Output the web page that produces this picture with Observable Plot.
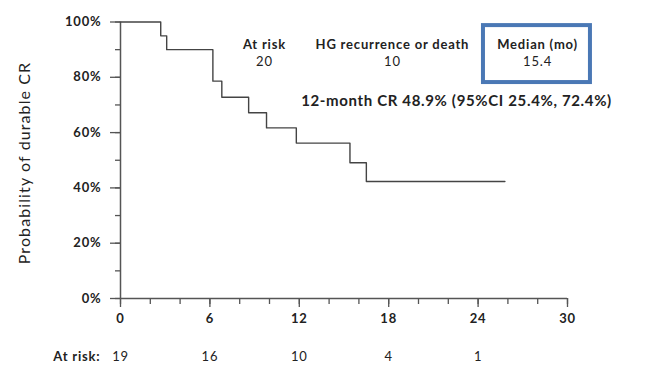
<!DOCTYPE html>
<html><head><meta charset="utf-8">
<script src="https://cdn.jsdelivr.net/npm/d3@7"></script>
<script src="https://cdn.jsdelivr.net/npm/@observablehq/plot@0.6"></script>
<style>body{margin:0;background:#fff} svg text{letter-spacing:0.8px}</style>
</head><body><div id="chart"></div>
<script>
// Kaplan–Meier step curve (months, survival probability)
const times = [0, 2.7, 3.1, 6.2, 6.8, 8.6, 9.8, 11.8, 15.4, 16.5, 25.8];
const surv  = [1.0, 0.95, 0.90, 0.786, 0.728, 0.672, 0.617, 0.562, 0.491, 0.423, 0.423];
// Number at risk row
const riskTimes = [0, 6, 12, 18, 24];
const riskCounts = [19, 16, 10, 4, 1];
// Tick labels
const xTicks = [0, 6, 12, 18, 24, 30];
const yTicks = [0, 0.2, 0.4, 0.6, 0.8, 1.0];
// Annotation texts
const headers = ["At risk", "HG recurrence or death", "Median (mo)"];
const headerValues = ["20", "10", "15.4"];
const crText = "12-month CR 48.9% (95%CI 25.4%, 72.4%)";
const yLabel = "Probability of durable CR";

const curve = times.map((t, i) => ({t, s: surv[i]}));
const risk = riskTimes.map((t, i) => ({t, n: riskCounts[i]}));
const headerX = [9.66, 18.25, 27.99];
const hdr = headers.map((h, i) => ({x: headerX[i], h, v: headerValues[i]}));

const font = "Lato, 'Liberation Sans', sans-serif";
const ink = "#222";
const axisInk = "#555";
const blank = () => "";

const chart = Plot.plot({
  width: 645, height: 375,
  marginLeft: 120, marginRight: 78, marginTop: 21.5, marginBottom: 77,
  style: {fontFamily: font, fontSize: "13px", color: ink, background: "#fff"},
  x: {domain: [0, 30]},
  y: {domain: [0, 1]},
  marks: [
    // minor ticks
    Plot.axisY(d3.range(0, 1.001, 0.1), {tickSize: 5, tickFormat: blank, label: null, stroke: axisInk, strokeWidth: 1.3}),
    Plot.axisX(d3.range(0, 30.001, 2), {tickSize: 6, tickFormat: blank, label: null, stroke: axisInk, strokeWidth: 1.3}),
    // major ticks + labels
    Plot.axisY(yTicks, {tickSize: 10, tickPadding: 9, tickFormat: d3.format(".0%"), label: null,
      stroke: axisInk, strokeWidth: 1.3, fontWeight: "bold", fontSize: 13, fill: ink}),
    Plot.axisX(xTicks, {tickSize: 9, tickPadding: 6, label: null,
      stroke: axisInk, strokeWidth: 1.3, fontWeight: "bold", fontSize: 13, fill: ink}),
    Plot.ruleX([0], {stroke: axisInk, strokeWidth: 1.5}),
    Plot.ruleY([0], {stroke: axisInk, strokeWidth: 1.5}),
    // survival curve
    Plot.line(curve, {x: "t", y: "s", curve: "step-after", stroke: "#444", strokeWidth: 1.4}),
    // y label
    Plot.text([yLabel], {x: -6.4, y: 0.49, rotate: -90, fontSize: 16, fill: ink}),
    // at risk row
    Plot.text(["At risk:"], {x: 0, y: 0, dy: 58, dx: -20, textAnchor: "end", fontWeight: "bold", fontSize: 13, fill: ink}),
    Plot.text(risk, {x: "t", y: 0, dy: 58, text: d => String(d.n), fontSize: 13, fill: ink}),
    // annotation table
    Plot.rect([0], {x1: 24.36, x2: 31.54, y1: 0.781, y2: 0.987, fill: "none", stroke: "#4a78b5", strokeWidth: 4}),
    Plot.text(hdr, {x: "x", y: 0.918, text: "h", fontWeight: "bold", fontSize: 13, fill: ink}),
    Plot.text(hdr, {x: "x", y: 0.857, text: "v", fontSize: 13, fill: ink}),
    Plot.text([crText], {x: 22.55, y: 0.712, fontWeight: "bold", fontSize: 15, fill: ink})
  ]
});
document.getElementById("chart").append(chart);
// per-text letter spacing to match the reference's wide glyphs
d3.select(chart).selectAll("text").each(function() {
  const t = this.textContent;
  if (t === yLabel) this.style.letterSpacing = "1.1px";
  else if (t === crText) this.style.letterSpacing = "0.65px";
});
</script>
</body></html>
